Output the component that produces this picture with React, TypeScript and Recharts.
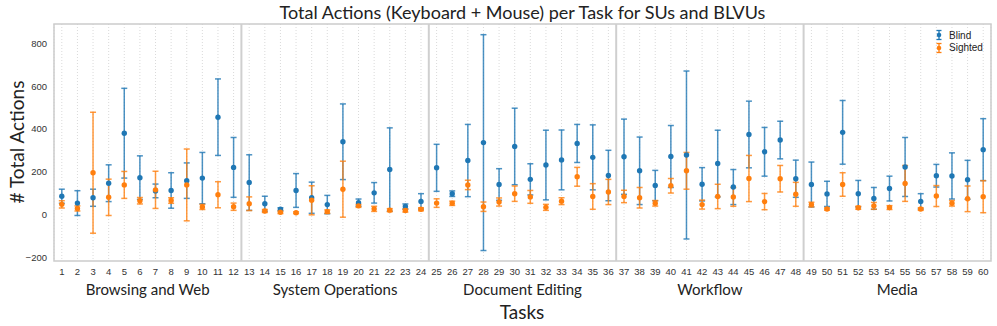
import {
  ScatterChart,
  Scatter,
  XAxis,
  YAxis,
  CartesianGrid,
  ErrorBar,
  ReferenceLine,
  ReferenceArea,
} from 'recharts';

const TASKS = [
  1, 2, 3, 4, 5, 6, 7, 8, 9, 10, 11, 12, 13, 14, 15, 16, 17, 18, 19, 20,
  21, 22, 23, 24, 25, 26, 27, 28, 29, 30, 31, 32, 33, 34, 35, 36, 37, 38, 39, 40,
  41, 42, 43, 44, 45, 46, 47, 48, 49, 50, 51, 52, 53, 54, 55, 56, 57, 58, 59, 60,
];

const BLIND_MEAN = [
  85, 53, 78, 146, 380, 172, 110, 112, 158, 170, 455, 220,
  149, 50, 24, 112, 78, 46, 340, 55, 101, 210, 37, 61,
  218, 97, 252, 336, 140, 318, 164, 231, 255, 332, 267, 182,
  270, 204, 135, 271, 278, 141, 238, 128, 374, 293, 348, 167,
  140, 96, 384, 97, 75, 121, 222, 61, 181, 180, 162, 303,
];
const BLIND_SD = [
  33, 58, 40, 86, 210, 102, 32, 83, 83, 120, 179, 140,
  130, 35, 7, 79, 73, 43, 177, 17, 48, 195, 12, 36,
  110, 13, 169, 505, 74, 179, 73, 163, 140, 89, 152, 118,
  176, 158, 71, 145, 393, 78, 156, 82, 156, 114, 88, 87,
  105, 59, 149, 62, 51, 58, 138, 36, 53, 108, 91, 145,
];
const SIGHTED_MEAN = [
  47, 28, 195, 80, 138, 64, 115, 65, 138, 35, 92, 36,
  50, 16, 10, 8, 66, 13, 118, 40, 26, 20, 18, 24,
  53, 52, 138, 36, 58, 97, 82, 33, 62, 176, 84, 105,
  84, 78, 52, 134, 204, 46, 84, 82, 168, 60, 167, 94,
  46, 25, 140, 31, 40, 32, 145, 25, 86, 52, 73, 83,
];
const SIGHTED_SD = [
  17, 12, 283, 85, 63, 15, 87, 13, 168, 12, 61, 17,
  32, 7, 6, 4, 68, 8, 131, 7, 12, 7, 7, 7,
  20, 10, 22, 22, 19, 36, 30, 14, 16, 44, 60, 59,
  29, 48, 13, 34, 86, 21, 57, 44, 108, 38, 62, 56,
  11, 5, 55, 7, 16, 9, 84, 6, 49, 13, 60, 75,
];

const CATEGORIES = ['Browsing and Web', 'System Operations', 'Document Editing', 'Workflow', 'Media'];
// task ranges [first - 0.5, last + 0.5] for each category
const CATEGORY_RANGES = [
  [0.5, 12.5],
  [12.5, 24.5],
  [24.5, 36.5],
  [36.5, 48.5],
  [48.5, 60.5],
];
const CATEGORY_BOUNDS = [12.5, 24.5, 36.5, 48.5];
const Y_TICKS = [-200, 0, 200, 400, 600, 800];

const BLUE = '#1f77b4';
const ORANGE = '#ff7f0e';
const TICK_FONT = '"Liberation Sans", Arial, sans-serif';
const LABEL_FONT = 'Lato, "Open Sans", sans-serif';

const blindData = TASKS.map((t, i) => ({ task: t, value: BLIND_MEAN[i], err: BLIND_SD[i] }));
const sightedData = TASKS.map((t, i) => ({ task: t, value: SIGHTED_MEAN[i], err: SIGHTED_SD[i] }));

const dot = (color: string) => (props: any) =>
  <circle cx={props.cx} cy={props.cy} r={2.7} fill={color} />;

function LegendBox() {
  const items = [
    { name: 'Blind', color: BLUE },
    { name: 'Sighted', color: ORANGE },
  ];
  return (
    <div
      style={{
        position: 'absolute',
        left: 932,
        top: 29,
        fontFamily: TICK_FONT,
        fontSize: 10,
        color: '#222',
      }}
    >
      {items.map((it) => (
        <div key={it.name} style={{ display: 'flex', alignItems: 'center', height: 12.5 }}>
          <svg width={14} height={12}>
            <line x1={7} y1={1.5} x2={7} y2={10.5} stroke={it.color} strokeWidth={1.3} />
            <line x1={4.5} y1={1.5} x2={9.5} y2={1.5} stroke={it.color} strokeWidth={1.3} />
            <line x1={4.5} y1={10.5} x2={9.5} y2={10.5} stroke={it.color} strokeWidth={1.3} />
            <circle cx={7} cy={6} r={2.3} fill={it.color} />
          </svg>
          <span style={{ marginLeft: 3 }}>{it.name}</span>
        </div>
      ))}
    </div>
  );
}

export default function App() {
  return (
    <div style={{ position: 'absolute', left: 0, top: 0, width: 997, height: 326, background: '#fff' }}>
      <div
        style={{
          position: 'absolute',
          left: 54,
          width: 937,
          top: 1,
          textAlign: 'center',
          fontFamily: LABEL_FONT,
          fontSize: 18,
          color: '#222',
        }}
      >
        Total Actions (Keyboard + Mouse) per Task for SUs and BLVUs
      </div>
      <ScatterChart width={997} height={326} margin={{ top: 24, right: 6, bottom: 0, left: 0 }}>
        <CartesianGrid vertical horizontal={false} stroke="#dadada" strokeDasharray="1 2" />
        <XAxis
          dataKey="task"
          type="number"
          domain={[0.5, 60.5]}
          ticks={TASKS}
          interval={0}
          allowDataOverflow
          height={65}
          axisLine={false}
          tickLine={false}
          tickSize={0}
          tickMargin={7}
          tick={{ fontSize: 9.5, fill: '#333', fontFamily: TICK_FONT }}
          label={{
            content: () => (
              <text
                x={522}
                y={311}
                textAnchor="middle"
                dominantBaseline="central"
                style={{ fontSize: 19, fill: '#222', fontFamily: LABEL_FONT }}
              >
                Tasks
              </text>
            ),
          }}
        />
        <YAxis
          dataKey="value"
          type="number"
          domain={[-218, 891]}
          ticks={Y_TICKS}
          allowDataOverflow
          width={54}
          axisLine={false}
          tickLine={false}
          tickSize={0}
          tickMargin={7}
          tickFormatter={(v: number) => String(v).replace('-', '\u2212')}
          tick={{ fontSize: 9.5, fill: '#333', fontFamily: TICK_FONT }}
          label={{
            content: () => (
              <text
                x={16}
                y={142}
                transform="rotate(-90 16 142)"
                textAnchor="middle"
                dominantBaseline="central"
                style={{ fontSize: 19, fill: '#222', fontFamily: LABEL_FONT }}
              >
                # Total Actions
              </text>
            ),
          }}
        />
        {CATEGORY_RANGES.map(([a, b], i) => (
          <ReferenceArea
            key={CATEGORIES[i]}
            x1={a}
            x2={b}
            y1={-218}
            y2={891}
            fill="none"
            fillOpacity={0}
            strokeOpacity={0}
            ifOverflow="visible"
            label={{
              value: CATEGORIES[i],
              position: 'bottom',
              offset: 23,
              style: { fontSize: 15, fill: '#222', fontFamily: LABEL_FONT },
            }}
          />
        ))}
        <ReferenceArea
          x1={0.5}
          x2={60.5}
          y1={-218}
          y2={891}
          fill="none"
          stroke="#cccccc"
          strokeWidth={1.5}
          fillOpacity={0}
        />
        {CATEGORY_BOUNDS.map((b) => (
          <ReferenceLine key={b} x={b} stroke="#cfcfcf" strokeWidth={2} />
        ))}
        <Scatter
          name="Blind"
          data={blindData}
          dataKey="value"
          isAnimationActive={false}
          shape={dot(BLUE)}
        >
          <ErrorBar dataKey="err" direction="y" width={3} stroke={BLUE} strokeWidth={1.5} strokeOpacity={0.8} />
        </Scatter>
        <Scatter
          name="Sighted"
          data={sightedData}
          dataKey="value"
          isAnimationActive={false}
          shape={dot(ORANGE)}
        >
          <ErrorBar dataKey="err" direction="y" width={3} stroke={ORANGE} strokeWidth={1.5} strokeOpacity={0.8} />
        </Scatter>
      </ScatterChart>
      <LegendBox />
    </div>
  );
}
